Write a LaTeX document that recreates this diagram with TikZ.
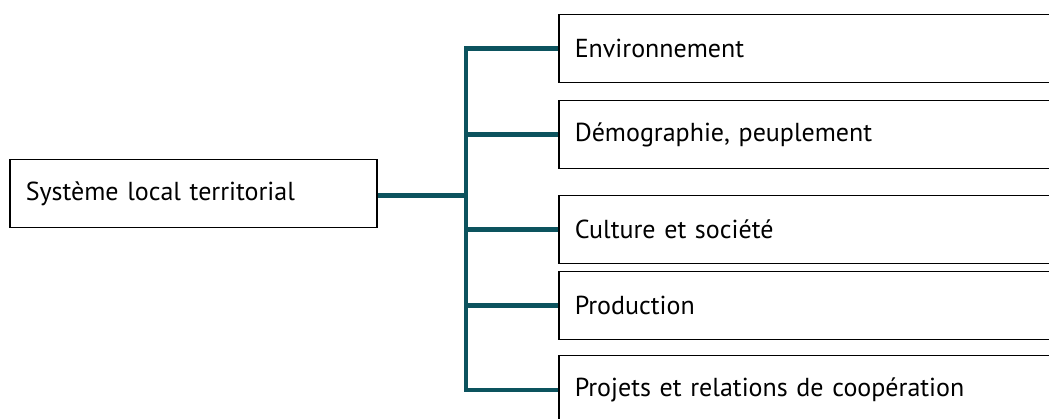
\documentclass[tikz,border=0pt]{standalone}
\usepackage{fontspec}
\setmainfont{PT Sans}
\definecolor{branch}{RGB}{12,83,94}
\begin{document}
\begin{tikzpicture}[x=1pt,y=-1pt,
  box/.style={draw=black, line width=1.5pt, fill=white, rectangle,
    minimum height=68pt, inner xsep=16pt, inner ysep=0pt,
    align=left, font=\fontsize{26}{30}\selectfont},
  leaf/.style={box, anchor=north west, minimum width=502pt, text width=470pt},
  link/.style={draw=branch, line width=4.5pt}]
\useasboundingbox (0,0) rectangle (1049,419);
\clip (0,0) rectangle (1049,419);

% root of the tree
\node[box, anchor=north west, minimum width=367pt, text width=335pt]
  (root) at (9,159) {Système local territorial};

% themes on the right
\node[leaf] (env)  at (558,14)  {Environnement};
\node[leaf] (demo) at (558,100) {Démographie, peuplement};
\node[leaf] (cult) at (558,195) {Culture et société};
\node[leaf] (prod) at (558,271) {Production};
\node[leaf] (proj) at (558,355) {Projets et relations de coopération};

% trunk and branches
\coordinate (top) at (466,0 |- env.west);
\coordinate (bot) at (466,0 |- proj.west);
\coordinate (hub) at ([yshift=-2pt]466,0 |- root.east);
\draw[link] ([yshift=-2pt]root.east) -- (hub);
\draw[link] (env.west) -- (top) -- (bot) -- (proj.west);
\draw[link] (demo.west) -- (demo.west -| top);
\draw[link] (cult.west) -- (cult.west -| top);
\draw[link] (prod.west) -- (prod.west -| top);
\end{tikzpicture}
\end{document}
